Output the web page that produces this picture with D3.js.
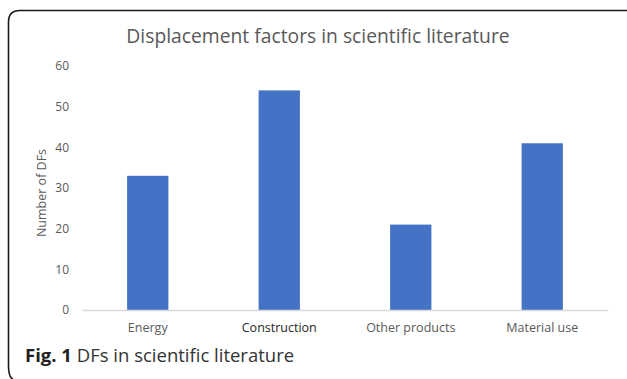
<!DOCTYPE html>
<html>
<head>
<meta charset="utf-8">
<script src="https://cdn.jsdelivr.net/npm/d3@7"></script>
<style>
  body { margin: 0; background: #fff; }
  svg { display: block; }
</style>
</head>
<body>
<div id="chart"></div>
<script>
// data
var categories = ['Energy', 'Construction', 'Other products', 'Material use'];
var values = [33, 54, 21, 41];
var yTicks = [0, 10, 20, 30, 40, 50, 60];

var width = 627, height = 379;

var svg = d3.select('#chart').append('svg')
    .attr('width', width)
    .attr('height', height);

// frame (rounded, runs off the right edge)
svg.append('path')
    .attr('d', 'M 640 10.5 L 20 10.5 Q 8.5 10.5 8.5 22 L 8.5 366 Q 8.5 378 14 380')
    .attr('fill', 'none')
    .attr('stroke', '#1a1a1a')
    .attr('stroke-width', 1.6);

// title
svg.append('text')
    .attr('x', 318)
    .attr('y', 43)
    .attr('text-anchor', 'middle')
    .style('font-family', 'Open Sans')
    .style('font-size', '19.3px')
    .style('fill', '#595959')
    .text('Displacement factors in scientific literature');

// scales
var x = d3.scaleBand()
    .domain(categories)
    .range([82, 608])
    .paddingInner(0.686)
    .paddingOuter(0.343);

var y = d3.scaleLinear()
    .domain([0, 60])
    .range([310, 66]);

// y axis labels
var yAxis = d3.axisLeft(y).tickValues(yTicks).tickSize(0).tickPadding(13);
var gy = svg.append('g')
    .attr('transform', 'translate(82,0)')
    .call(yAxis);
gy.select('.domain').remove();
gy.selectAll('text')
    .style('font-family', 'Open Sans')
    .style('font-size', '12px')
    .style('fill', '#595959');

// y axis title
svg.append('text')
    .attr('transform', 'translate(46,193) rotate(-90)')
    .attr('text-anchor', 'middle')
    .style('font-family', 'Open Sans')
    .style('font-size', '12.5px')
    .style('fill', '#595959')
    .text('Number of DFs');

// bars
svg.selectAll('.bar')
    .data(categories)
    .join('rect')
    .attr('class', 'bar')
    .attr('x', d => x(d))
    .attr('width', x.bandwidth())
    .attr('y', (d, i) => y(values[i]))
    .attr('height', (d, i) => y(0) - y(values[i]))
    .attr('fill', '#4472c4');

// x axis
var xAxis = d3.axisBottom(x).tickSize(0).tickPadding(13);
var gx = svg.append('g')
    .attr('transform', 'translate(0,310)')
    .call(xAxis);
gx.select('.domain')
    .attr('stroke', '#d9d9d9')
    .attr('stroke-width', 1.5);
gx.selectAll('text')
    .style('font-family', 'Open Sans')
    .style('font-size', '12.5px')
    .style('fill', d => d === 'Construction' ? '#262626' : '#595959');

// caption
var cap = svg.append('text')
    .attr('x', 25)
    .attr('y', 362)
    .style('font-family', 'Open Sans')
    .style('font-size', '18.5px')
    .style('fill', '#333333');
cap.append('tspan').style('font-weight', 'bold').style('fill', '#231f20').text('Fig. 1');
cap.append('tspan').text(' DFs in scientific literature');
</script>
</body>
</html>
